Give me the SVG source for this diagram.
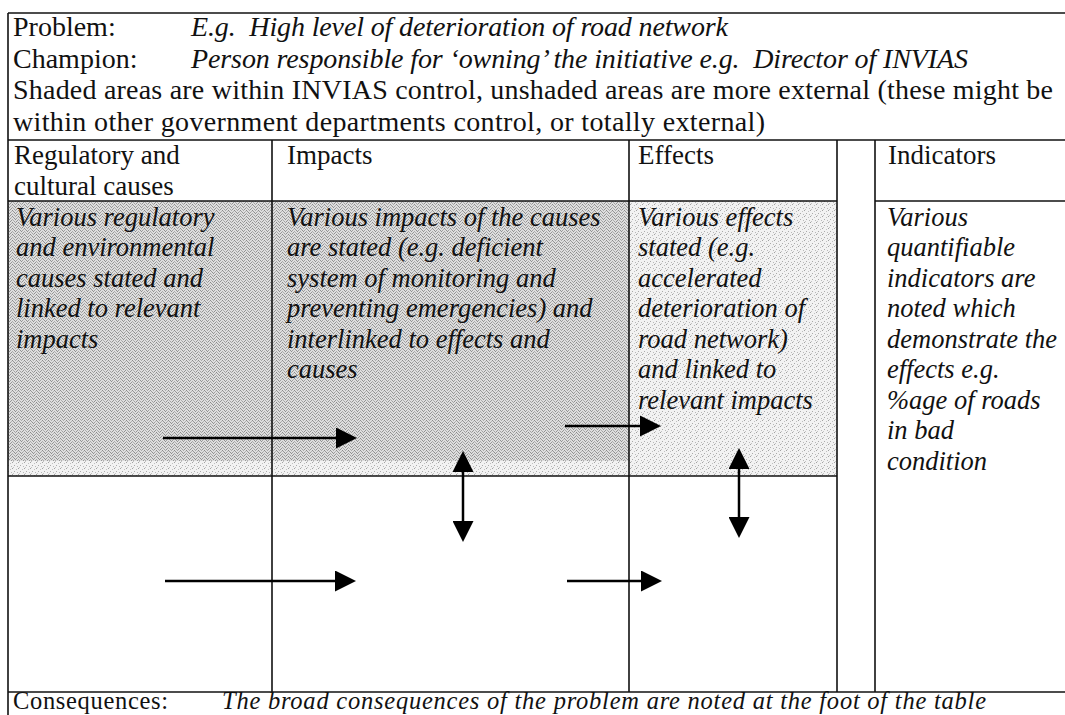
<svg xmlns="http://www.w3.org/2000/svg" width="1065" height="715" viewBox="0 0 1065 715">
  <defs>
    <!-- halftone-like screens for the shaded cells -->
    <pattern id="shadeDense" width="6" height="6" patternUnits="userSpaceOnUse">
      <rect width="6" height="6" fill="#dedede"/>
      <rect x="0" y="0" width="1" height="1" fill="#8a8a8a"/>
      <rect x="3" y="0" width="1" height="1" fill="#a8a8a8"/>
      <rect x="1" y="1" width="1" height="1" fill="#9a9a9a"/>
      <rect x="5" y="1" width="1" height="1" fill="#b2b2b2"/>
      <rect x="2" y="2" width="1" height="1" fill="#909090"/>
      <rect x="4" y="2" width="1" height="1" fill="#a0a0a0"/>
      <rect x="0" y="3" width="1" height="1" fill="#aaaaaa"/>
      <rect x="3" y="3" width="1" height="1" fill="#8e8e8e"/>
      <rect x="1" y="4" width="1" height="1" fill="#b0b0b0"/>
      <rect x="5" y="4" width="1" height="1" fill="#989898"/>
      <rect x="2" y="5" width="1" height="1" fill="#a4a4a4"/>
      <rect x="4" y="5" width="1" height="1" fill="#929292"/>
    </pattern>
    <pattern id="shadeLight" width="6" height="6" patternUnits="userSpaceOnUse">
      <rect width="6" height="6" fill="#f2f2f2"/>
      <rect x="0" y="0" width="1" height="1" fill="#a2a2a2"/>
      <rect x="4" y="1" width="1" height="1" fill="#c0c0c0"/>
      <rect x="2" y="3" width="1" height="1" fill="#aaaaaa"/>
      <rect x="5" y="4" width="1" height="1" fill="#b8b8b8"/>
      <rect x="1" y="5" width="1" height="1" fill="#c4c4c4"/>
    </pattern>
    <marker id="head" markerUnits="userSpaceOnUse" markerWidth="21" markerHeight="21" viewBox="0 0 21 21" refX="0" refY="10.5" orient="auto-start-reverse">
      <path d="M0,0 L21,10.5 L0,21 z" fill="#000"/>
    </marker>
  </defs>
  <style>
    text { font-family: "Liberation Serif", "Times New Roman", serif; font-size: 26.5px; fill: #111; white-space: pre; }
    .it { font-style: italic; }
    .top { font-size: 28px; }
    .hd { font-size: 27px; }
    .foot { font-size: 24.5px; }
    .rule { stroke: #111; stroke-width: 1.6; fill: none; }
    .arrow { stroke: #000; stroke-width: 2.5; fill: none; marker-end: url(#head); }
    .both { marker-start: url(#head); }
  </style>

  <rect width="1065" height="715" fill="#fff"/>

  <!-- shading of the cells under INVIAS control -->
  <g id="shading">
    <rect x="8" y="201" width="621" height="260" fill="url(#shadeDense)"/>
    <rect x="8" y="461" width="621" height="15" fill="url(#shadeLight)"/>
    <rect x="629" y="201" width="208" height="275" fill="url(#shadeLight)"/>
  </g>

  <!-- table rules -->
  <g id="grid">
    <line class="rule" x1="8" y1="13" x2="1065" y2="13" stroke-width="2"/>
    <line class="rule" x1="8" y1="13" x2="8" y2="715" stroke-width="2"/>
    <line class="rule" x1="8" y1="140" x2="1065" y2="140"/>
    <line class="rule" x1="8" y1="201" x2="837" y2="201"/>
    <line class="rule" x1="875" y1="201" x2="1065" y2="201"/>
    <line class="rule" x1="8" y1="476" x2="837" y2="476"/>
    <line class="rule" x1="8" y1="692" x2="1065" y2="692"/>
    <line class="rule" x1="272" y1="140" x2="272" y2="692"/>
    <line class="rule" x1="629" y1="140" x2="629" y2="692"/>
    <line class="rule" x1="837" y1="140" x2="837" y2="692"/>
    <line class="rule" x1="875" y1="140" x2="875" y2="692"/>
  </g>

  <g id="problem">
    <text class="top" x="13" y="36">Problem:</text>
    <text class="top it" x="191" y="36" textLength="537">E.g.  High level of deterioration of road network</text>
  </g>
  <g id="champion">
    <text class="top" x="13" y="67.5">Champion:</text>
    <text class="top it" x="191" y="67.5" textLength="777">Person responsible for ‘owning’ the initiative e.g.  Director of INVIAS</text>
  </g>
  <g id="note">
    <text class="top" x="13" y="99" textLength="1040">Shaded areas are within INVIAS control, unshaded areas are more external (these might be</text>
    <text class="top" x="13" y="130.5" textLength="752">within other government departments control, or totally external)</text>
  </g>

  <g id="head-causes">
    <text class="hd" x="14" y="164">Regulatory and</text>
    <text class="hd" x="14" y="194.5">cultural causes</text>
  </g>
  <g id="head-impacts">
    <text class="hd" x="287" y="164">Impacts</text>
  </g>
  <g id="head-effects">
    <text class="hd" x="638" y="164">Effects</text>
  </g>
  <g id="head-indicators">
    <text class="hd" x="888" y="164">Indicators</text>
  </g>

  <g id="causes">
    <text class="it" x="16" y="225.5">Various regulatory</text>
    <text class="it" x="16" y="256">and environmental</text>
    <text class="it" x="16" y="286.5">causes stated and</text>
    <text class="it" x="16" y="317">linked to relevant</text>
    <text class="it" x="16" y="347.5">impacts</text>
  </g>
  <g id="impacts">
    <text class="it" x="287" y="225.5">Various impacts of the causes</text>
    <text class="it" x="287" y="256">are stated (e.g. deficient</text>
    <text class="it" x="287" y="286.5">system of monitoring and</text>
    <text class="it" x="287" y="317">preventing emergencies) and</text>
    <text class="it" x="287" y="347.5">interlinked to effects and</text>
    <text class="it" x="287" y="378">causes</text>
  </g>
  <g id="effects">
    <text class="it" x="638" y="225.5">Various effects</text>
    <text class="it" x="638" y="256">stated (e.g.</text>
    <text class="it" x="638" y="286.5">accelerated</text>
    <text class="it" x="638" y="317">deterioration of</text>
    <text class="it" x="638" y="347.5">road network)</text>
    <text class="it" x="638" y="378">and linked to</text>
    <text class="it" x="638" y="408.5">relevant impacts</text>
  </g>
  <g id="indicators">
    <text class="it" x="887" y="225.5">Various</text>
    <text class="it" x="887" y="256">quantifiable</text>
    <text class="it" x="887" y="286.5">indicators are</text>
    <text class="it" x="887" y="317">noted which</text>
    <text class="it" x="887" y="347.5">demonstrate the</text>
    <text class="it" x="887" y="378">effects e.g.</text>
    <text class="it" x="887" y="408.5">%age of roads</text>
    <text class="it" x="887" y="439">in bad</text>
    <text class="it" x="887" y="469.5">condition</text>
  </g>

  <g id="consequences">
    <text class="foot" x="13" y="709" textLength="155">Consequences:</text>
    <text class="foot it" x="222" y="709" textLength="764">The broad consequences of the problem are noted at the foot of the table</text>
  </g>

  <!-- links between causes, impacts and effects -->
  <g id="connectors">
    <line class="arrow" x1="163" y1="438" x2="336" y2="438"/>
    <line class="arrow" x1="565" y1="426" x2="640" y2="426"/>
    <line class="arrow" x1="165" y1="581" x2="335" y2="581"/>
    <line class="arrow" x1="567" y1="581" x2="641" y2="581"/>
    <line class="arrow both" x1="463" y1="472" x2="463" y2="521"/>
    <line class="arrow both" x1="739" y1="469" x2="739" y2="517"/>
  </g>
</svg>
